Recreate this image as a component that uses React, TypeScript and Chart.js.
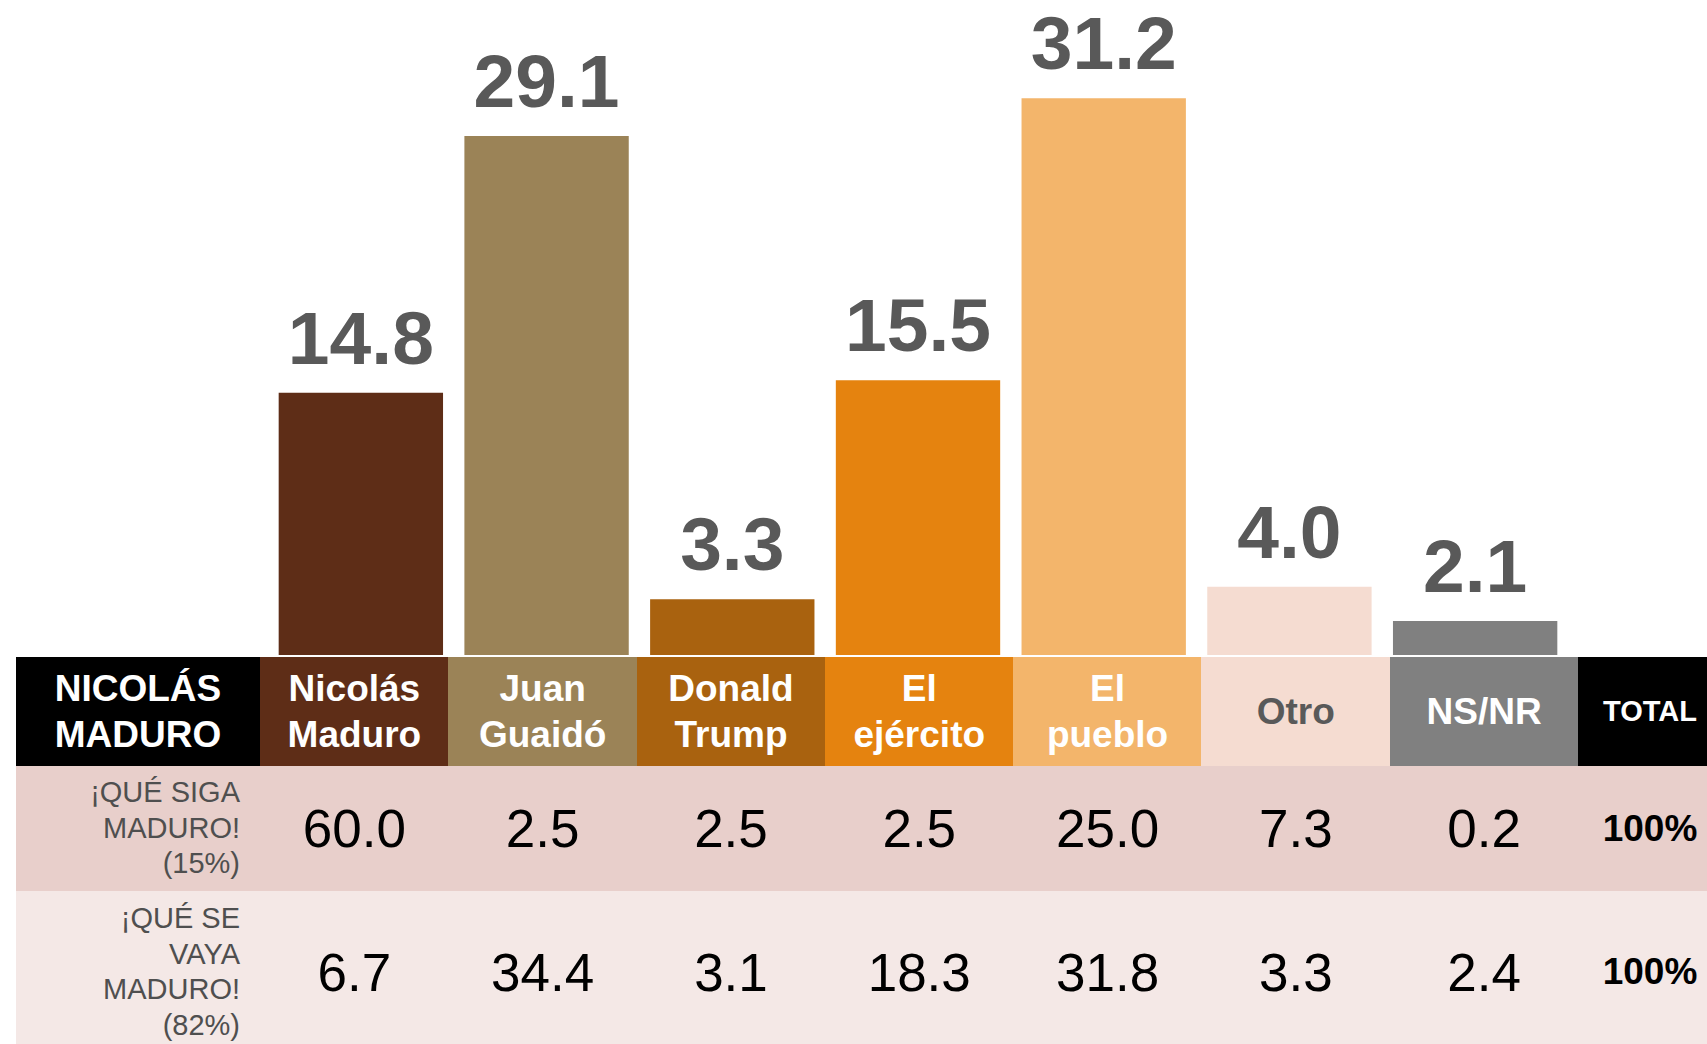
import React, { useEffect, useRef } from "react";
import { Chart, registerables } from "chart.js";

Chart.register(...registerables);

const categories = ["Nicolás Maduro", "Juan Guaidó", "Donald Trump", "El ejército", "El pueblo", "Otro", "NS/NR"];
const headerLines = [["Nicolás", "Maduro"], ["Juan", "Guaidó"], ["Donald", "Trump"], ["El", "ejército"], ["El", "pueblo"], ["Otro"], ["NS/NR"]];
const totalValues = [14.8, 29.1, 3.3, 15.5, 31.2, 4.0, 2.1];
const sigaValues = [60.0, 2.5, 2.5, 2.5, 25.0, 7.3, 0.2];
const vayaValues = [6.7, 34.4, 3.1, 18.3, 31.8, 3.3, 2.4];
const barColors = ["#5E2D17", "#9B8357", "#A9620F", "#E5830F", "#F3B56B", "#F5DCD1", "#808080"];
const headerTextColors = ["#FFFFFF", "#FFFFFF", "#FFFFFF", "#FFFFFF", "#FFFFFF", "#595959", "#FFFFFF"];
const titleLines = ["NICOLÁS", "MADURO"];
const sigaLabel = ["¡QUÉ SIGA", "MADURO!", "(15%)"];
const vayaLabel = ["¡QUÉ SE", "VAYA", "MADURO!", "(82%)"];
const totalHeader = "TOTAL";
const totalCell = "100%";

const FONT = '"Liberation Sans", Arial, sans-serif';

const valueLabelPlugin = {
  id: "valueLabels",
  afterDatasetsDraw(chart: any) {
    const ctx = chart.ctx;
    const meta = chart.getDatasetMeta(0);
    ctx.save();
    ctx.font = `bold 75px ${FONT}`;
    ctx.fillStyle = "#595959";
    ctx.textAlign = "center";
    ctx.textBaseline = "alphabetic";
    meta.data.forEach((el: any, i: number) => {
      ctx.fillText(totalValues[i].toFixed(1), el.x, el.y - 29);
    });
    ctx.restore();
  },
};

const FIRST_W = 244;
const COL_W = 188.29;
const TOTAL_W = 144;
const LEFT = 16;
const HEADER_TOP = 657;
const HEADER_H = 109;
const ROW1_H = 125;
const ROW2_H = 162;

function cellStyle(left: number, top: number, width: number, height: number, bg: string): React.CSSProperties {
  return {
    position: "absolute",
    left,
    top,
    width,
    height,
    background: bg,
    display: "flex",
    flexDirection: "column",
    justifyContent: "center",
    alignItems: "center",
    textAlign: "center",
    fontFamily: FONT,
    boxSizing: "border-box",
    whiteSpace: "nowrap",
  };
}

export default function App() {
  const canvasRef = useRef<HTMLCanvasElement | null>(null);

  useEffect(() => {
    if (!canvasRef.current) return;
    const chart = new Chart(canvasRef.current, {
      type: "bar",
      data: {
        labels: categories,
        datasets: [
          {
            data: totalValues,
            backgroundColor: barColors,
            borderWidth: 0,
            barPercentage: 0.885,
            categoryPercentage: 1,
          },
        ],
      },
      options: {
        animation: false,
        responsive: false,
        layout: { padding: { left: 268, right: 139, top: 30, bottom: 2 } },
        scales: {
          x: { display: false },
          y: { display: false, min: 0.2, max: 35 },
        },
        plugins: { legend: { display: false }, tooltip: { enabled: false } },
      },
      plugins: [valueLabelPlugin],
    } as any);
    return () => chart.destroy();
  }, []);

  const colLeft = (i: number) => LEFT + FIRST_W + i * COL_W;
  const totalLeft = LEFT + FIRST_W + 7 * COL_W;
  const row1Top = HEADER_TOP + HEADER_H;
  const row2Top = row1Top + ROW1_H;

  const rowLabelStyle = (top: number, h: number, bg: string): React.CSSProperties => ({
    ...cellStyle(LEFT, top, FIRST_W, h, bg),
    alignItems: "flex-end",
    textAlign: "right",
    paddingRight: 20,
    fontSize: 29,
    lineHeight: "35.5px",
    color: "#4F4F4F",
  });

  return (
    <div style={{ position: "fixed", left: 0, top: 0, width: 1707, height: 1044, overflow: "hidden", background: "#FFFFFF" }}>
      <canvas ref={canvasRef} width={1707} height={657} style={{ position: "absolute", left: 0, top: 0, width: 1707, height: 657 }} />

      <div style={{ ...cellStyle(LEFT, HEADER_TOP, FIRST_W, HEADER_H, "#000000"), color: "#FFFFFF", fontWeight: "bold", fontSize: 37, lineHeight: "45.6px" }}>
        {titleLines.map((t, k) => (
          <div key={k}>{t}</div>
        ))}
      </div>
      {headerLines.map((lines, i) => (
        <div
          key={"h" + i}
          style={{ ...cellStyle(colLeft(i), HEADER_TOP, COL_W + 0.5, HEADER_H, barColors[i]), color: headerTextColors[i], fontWeight: "bold", fontSize: 37, lineHeight: "45.6px" }}
        >
          {lines.map((t, k) => (
            <div key={k}>{t}</div>
          ))}
        </div>
      ))}
      <div style={{ ...cellStyle(totalLeft, HEADER_TOP, TOTAL_W, HEADER_H, "#000000"), color: "#FFFFFF", fontWeight: "bold", fontSize: 29 }}>
        {totalHeader}
      </div>

      <div style={rowLabelStyle(row1Top, ROW1_H, "#E8CFCB")}>
        {sigaLabel.map((t, k) => (
          <div key={k}>{t}</div>
        ))}
      </div>
      {sigaValues.map((v, i) => (
        <div key={"s" + i} style={{ ...cellStyle(colLeft(i), row1Top, COL_W + 0.5, ROW1_H, "#E8CFCB"), color: "#000000", fontSize: 53 }}>
          {v.toFixed(1)}
        </div>
      ))}
      <div style={{ ...cellStyle(totalLeft, row1Top, TOTAL_W, ROW1_H, "#E8CFCB"), color: "#000000", fontWeight: "bold", fontSize: 37 }}>
        {totalCell}
      </div>

      <div style={rowLabelStyle(row2Top, ROW2_H, "#F4E8E6")}>
        {vayaLabel.map((t, k) => (
          <div key={k}>{t}</div>
        ))}
      </div>
      {vayaValues.map((v, i) => (
        <div key={"v" + i} style={{ ...cellStyle(colLeft(i), row2Top, COL_W + 0.5, ROW2_H, "#F4E8E6"), color: "#000000", fontSize: 53 }}>
          {v.toFixed(1)}
        </div>
      ))}
      <div style={{ ...cellStyle(totalLeft, row2Top, TOTAL_W, ROW2_H, "#F4E8E6"), color: "#000000", fontWeight: "bold", fontSize: 37 }}>
        {totalCell}
      </div>
    </div>
  );
}
